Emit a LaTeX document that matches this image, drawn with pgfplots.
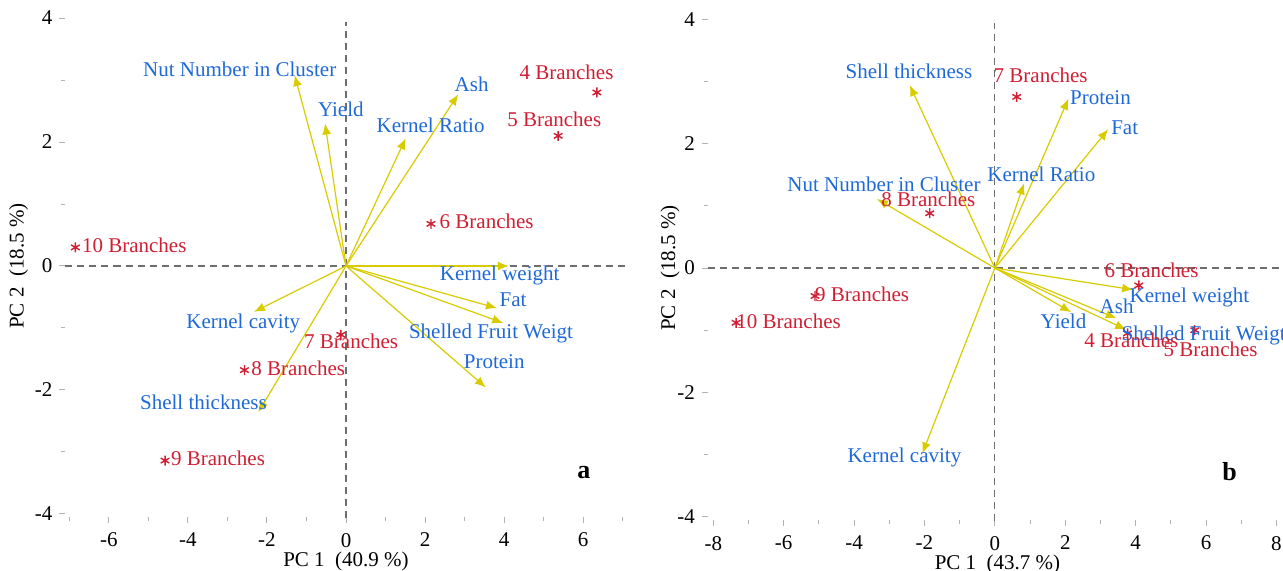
\documentclass[border=0pt]{standalone}
\usepackage{fontspec}
\setmainfont{Liberation Serif}
\usepackage{pgfplots}
\pgfplotsset{compat=1.18}
\usetikzlibrary{arrows.meta}

\definecolor{arrowyellow}{RGB}{216,204,0}
\definecolor{labelblue}{RGB}{30,105,215}
\definecolor{ptred}{RGB}{208,30,50}
\definecolor{dashgray}{RGB}{110,110,110}

\pgfplotsset{
 pcastyle/.style={
  scale only axis, anchor=south west, clip=false,
  axis line style={draw=none},
  tick align=outside, xtick pos=bottom, ytick pos=left,
  major tick length=3pt, minor tick length=2pt,
  tick style={gray!60, line width=0.5pt},
  ytick={-4,-2,0,2,4}, minor ytick={-3,-1,1,3},
  tick label style={font=\fontsize{10.5}{12}\selectfont},
  xticklabel style={yshift=-1.5pt},
  /pgf/number format/assume math mode=true,
  label style={font=\fontsize{10.5}{12}\selectfont},
  xlabel style={at={(0.5,0)}, anchor=center, yshift=-22pt},
 },
 arrowplot/.style={quiver={u=\thisrow{u},v=\thisrow{v}}, color=arrowyellow, line width=0.6pt, -{Latex[length=5.5pt,width=4.5pt]}},
 ptplot/.style={only marks, mark=asterisk, mark size=2.5pt, color=ptred, mark options={line width=0.7pt}},
 lblplot/.style={draw=none, mark=none, nodes near coords, point meta=explicit symbolic,
   every node near coord/.append style={anchor=center, inner sep=0pt, font=\fontsize{10.5}{12}\selectfont, text=#1}},
 dashline/.style={dashgray, line width=0.6pt, dash pattern=on 3.5pt off 2.5pt},
}

\begin{document}
\begin{tikzpicture}
% ---------------- panel a ----------------
\begin{axis}[pcastyle, at={(32.75pt,27pt)}, width=280.5pt, height=251pt,
  xmin=-7.1, xmax=7.1, ymin=-4.05, ymax=4.05,
  xtick={-6,-4,-2,0,2,4,6}, minor xtick={-7,-5,-3,-1,1,3,5,7},
  xlabel={PC 1\ \ (40.9 \%)}, ylabel={PC 2\ \ (18.5 \%)},
  ylabel style={at={(0,0.5)}, anchor=center, yshift=23.5pt}]
\addplot[dashline] coordinates {(-7.1,0) (7.1,0)};
\addplot[dashline] coordinates {(0,-4.06) (0,3.94)};
\addplot[arrowplot] table {
x y u v
0 0 -1.30 3.08
0 0 -0.53 2.30
0 0 1.51 2.06
0 0 2.84 2.77
0 0 4.12 0.00
0 0 3.82 -0.68
0 0 3.98 -0.92
0 0 3.54 -1.96
0 0 -2.33 -0.74
0 0 -2.22 -2.36
};
\addplot[ptplot] table {
x y
6.35 2.80
5.37 2.10
2.15 0.68
-6.85 0.30
-0.13 -1.11
-2.57 -1.68
-4.58 -3.14
};
\addplot[lblplot=labelblue] table[col sep=comma, meta=label] {
x,y,label
-2.69,3.17,Nut Number in Cluster
-0.13,2.53,Yield
2.14,2.27,Kernel Ratio
3.18,2.93,Ash
3.89,-0.15,Kernel weight
4.23,-0.55,Fat
3.67,-1.09,Shelled Fruit Weigt
3.75,-1.55,Protein
-2.60,-0.93,Kernel cavity
-3.61,-2.20,Shell thickness
};
\addplot[lblplot=ptred] table[col sep=comma, meta=label] {
x,y,label
5.58,3.13,4 Branches
5.27,2.37,5 Branches
3.56,0.72,6 Branches
-5.36,0.33,10 Branches
0.13,-1.21,7 Branches
-1.21,-1.65,8 Branches
-3.24,-3.10,9 Branches
};
\node[font=\bfseries\fontsize{13}{15}\selectfont] at (axis cs:6.02,-3.34) {a};
\end{axis}
% ---------------- panel b ----------------
\begin{axis}[pcastyle, at={(354pt,25.5pt)}, width=289.5pt, height=252pt,
  xmin=-8.15, xmax=8.3, ymin=-4.05, ymax=4.05,
  xtick={-8,-6,-4,-2,0,2,4,6,8}, minor xtick={-7,-5,-3,-1,1,3,5,7},
  xlabel={PC 1\ \ (43.7 \%)}, ylabel={PC 2\ \ (18.5 \%)},
  ylabel style={at={(0,0.5)}, anchor=center, yshift=19pt}]
\addplot[dashline] coordinates {(-8.15,0) (8.3,0)};
\addplot[dashline] coordinates {(0,-4.06) (0,3.94)};
\addplot[arrowplot] table {
x y u v
0 0 -2.42 2.94
0 0 2.09 2.72
0 0 3.22 2.23
0 0 0.83 1.36
0 0 -3.35 1.11
0 0 3.93 -0.35
0 0 3.46 -0.81
0 0 2.17 -0.71
0 0 3.73 -0.99
0 0 -2.06 -2.98
};
\addplot[ptplot] table {
x y
0.62 2.75
-1.85 0.88
4.09 -0.28
3.77 -1.05
5.68 -1.00
-5.11 -0.45
-7.35 -0.88
};
\addplot[lblplot=labelblue] table[col sep=comma, meta=label] {
x,y,label
-2.44,3.16,Shell thickness
3.00,2.73,Protein
3.69,2.26,Fat
1.32,1.50,Kernel Ratio
-3.15,1.34,Nut Number in Cluster
5.53,-0.47,Kernel weight
3.46,-0.61,Ash
1.95,-0.86,Yield
5.93,-1.09,Shelled Fruit Weigt
-2.57,-3.05,Kernel cavity
};
\addplot[lblplot=ptred] table[col sep=comma, meta=label] {
x,y,label
1.30,3.10,7 Branches
-1.89,1.11,8 Branches
4.45,-0.04,6 Branches
3.88,-1.16,4 Branches
6.13,-1.30,5 Branches
-3.77,-0.43,9 Branches
-5.86,-0.85,10 Branches
};
\node[font=\bfseries\fontsize{13}{15}\selectfont] at (axis cs:6.67,-3.27) {b};
\end{axis}
\pgfresetboundingbox
\path[use as bounding box] (0,0) rectangle (641.5pt,285.5pt);
\end{tikzpicture}
\end{document}
